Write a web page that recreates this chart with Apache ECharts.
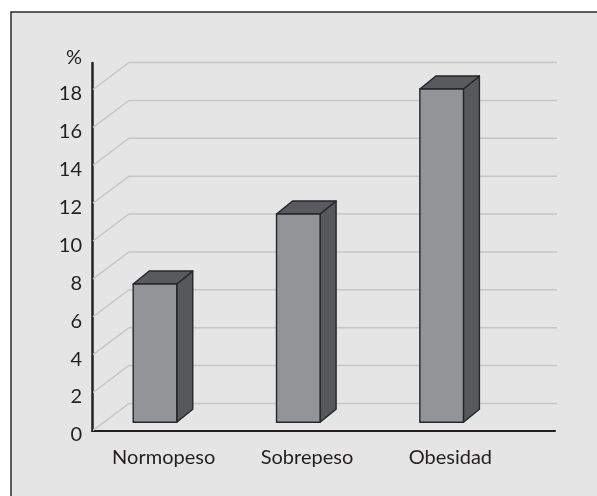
<!DOCTYPE html>
<html>
<head>
<meta charset="utf-8">
<script src="https://cdn.jsdelivr.net/npm/echarts@6/dist/echarts.min.js"></script>
<style>
html,body{margin:0;padding:0;background:#fff;}
#chart{width:597px;height:496px;}
</style>
</head>
<body>
<div id="chart"></div>
<script>
// Data
const categories = ['Normopeso', 'Sobrepeso', 'Obesidad'];
const values = [7.3, 11.0, 17.6];
const yTicks = [0, 2, 4, 6, 8, 10, 12, 14, 16, 18];
const yUnit = '%';

const FONT = 'Lato';
const depthX = 16, depthY = -13;       // bar depth
const wallX = 37, wallY = -27;         // back wall offset
const floorDY = -8.1, barShiftX = -8.7;

const chart = echarts.init(document.getElementById('chart'), null, {renderer: 'canvas'});

const option = {
  backgroundColor: '#ffffff',
  animation: false,
  graphic: [{
    type: 'rect', z: -100, zlevel: 0,
    shape: {x: 11, y: 12, width: 620, height: 520},
    style: {fill: '#e5e5e5', stroke: '#2b2b2b', lineWidth: 1.5}
  }],
  grid: [
    {left: 92, right: 75, top: 63, bottom: 65.6, containLabel: false},
    {left: 92, right: 42, top: 63, bottom: 65.6, containLabel: false}
  ],
  xAxis: [
    {
      type: 'category', gridIndex: 0, data: categories,
      axisLine: {show: false}, axisTick: {show: false}, splitLine: {show: false},
      axisLabel: {fontFamily: FONT, fontSize: 20, color: '#231f20', margin: 17}
    },
    {
      type: 'category', gridIndex: 1, data: [''],
      axisLine: {show: true, lineStyle: {color: '#231f20', width: 2.2}},
      axisTick: {show: false}, axisLabel: {show: false}, splitLine: {show: false}
    }
  ],
  yAxis: [
    {
      type: 'value', gridIndex: 0, min: 0, max: 19.4, interval: 2,
      name: yUnit, nameLocation: 'end', nameGap: -5,
      nameTextStyle: {fontFamily: FONT, fontSize: 20, color: '#231f20', align: 'right', padding: [0, 10, 0, 0]},
      axisLine: {show: true, lineStyle: {color: '#231f20', width: 2.5}},
      axisTick: {show: false}, splitLine: {show: false},
      axisLabel: {
        fontFamily: FONT, fontSize: 20, color: '#231f20', margin: 10,
        verticalAlign: 'top', lineHeight: 9,
        formatter: function (v) { return yTicks.indexOf(v) >= 0 ? String(v) : ''; }
      }
    },
    {
      type: 'value', gridIndex: 1, min: 0, max: 19.4, interval: 2, show: false
    }
  ],
  series: [
    {
      type: 'custom', name: 'grid', xAxisIndex: 1, yAxisIndex: 1, z: 1,
      silent: true, clip: false,
      data: yTicks.map(v => [0, v]),
      renderItem: function (params, api) {
        const cs = params.coordSys;
        const y = api.coord([0, api.value(1)])[1];
        const x0 = cs.x;
        return {
          type: 'polyline',
          shape: {points: [[x0 + 1, y], [x0 + wallX, y + wallY], [cs.x + cs.width + 2, y + wallY]]},
          style: {stroke: '#c6c6c6', lineWidth: 1.5, fill: null}
        };
      }
    },
    {
      type: 'custom', name: 'bars', xAxisIndex: 0, yAxisIndex: 0, z: 3, clip: false,
      data: values.map((v, i) => [i, v]),
      renderItem: function (params, api) {
        const top = api.coord([api.value(0), api.value(1)]);
        const base = api.coord([api.value(0), 0]);
        const band = api.size([1, 0])[0];
        const w = band * 0.304;
        const L = top[0] + barShiftX - w / 2;
        const R = L + w;
        const T = top[1] + floorDY;
        const B = base[1] + floorDY;
        const stroke = {stroke: '#262626', lineWidth: 1.4, lineJoin: 'round'};
        return {
          type: 'group',
          children: [
            {type: 'polygon', shape: {points: [[R, T], [R + depthX, T + depthY], [R + depthX, B + depthY], [R, B]]},
             style: Object.assign({fill: '#57585b'}, stroke)},
            {type: 'polygon', shape: {points: [[L, T], [L + depthX, T + depthY], [R + depthX, T + depthY], [R, T]]},
             style: Object.assign({fill: '#595a5d'}, stroke)},
            {type: 'rect', shape: {x: L, y: T, width: w, height: B - T},
             style: Object.assign({fill: '#939497'}, stroke)}
          ]
        };
      }
    }
  ]
};
chart.setOption(option);
</script>
</body>
</html>
